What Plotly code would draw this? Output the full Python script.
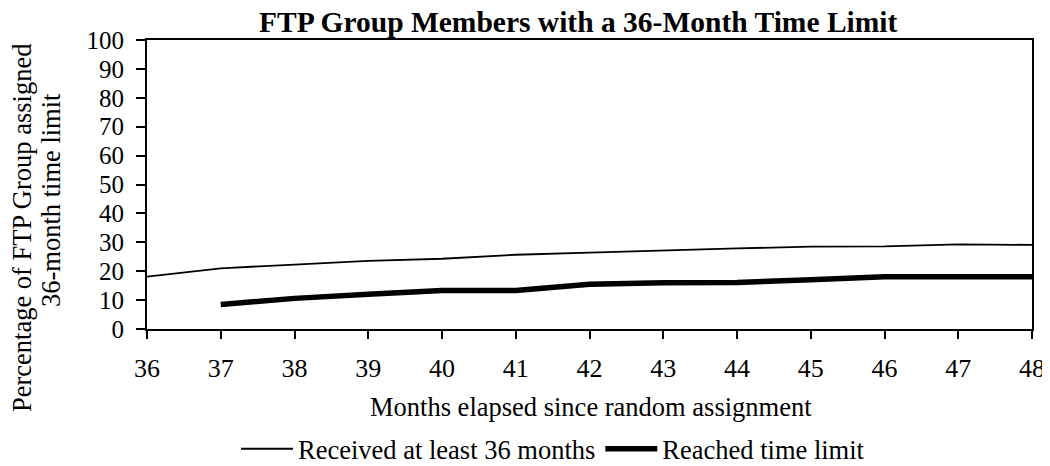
import plotly.graph_objects as go

months = [36, 37, 38, 39, 40, 41, 42, 43, 44, 45, 46, 47, 48]
received = [18.1, 21.0, 22.3, 23.6, 24.3, 25.7, 26.4, 27.2, 27.9, 28.5, 28.6, 29.3, 29.1]
reached = [None, 8.5, 10.6, 12.0, 13.3, 13.3, 15.5, 16.0, 16.1, 17.0, 18.1, 18.1, 18.1]
x_ticks = list(range(36, 49))
y_ticks = list(range(0, 101, 10))

FONT = "Liberation Serif, Times New Roman, serif"

# page body offset of the figure inside the browser window
OFF = 8
W, H = 1050 - OFF, 466 - OFF
# plot area in window pixels
L, R, T, B = 147, 1032, 40, 329
PW, PH = R - L, B - T


def px(x):
    return (x - L) / PW


def py(y):
    return (B - y) / PH


fig = go.Figure()
fig.add_trace(go.Scatter(x=months, y=received, mode="lines", name="Received at least 36 months",
                         line=dict(color="black", width=1.8)))
fig.add_trace(go.Scatter(x=months, y=reached, mode="lines", name="Reached time limit",
                         line=dict(color="black", width=5.5)))

fig.update_layout(
    width=W, height=H,
    margin=dict(l=L - OFF, r=W - (R - OFF), t=T - OFF, b=H - (B - OFF), autoexpand=False),
    paper_bgcolor="white", plot_bgcolor="white",
    font=dict(family=FONT, size=26.5, color="black"),
    showlegend=True,
    legend=dict(orientation="h", x=px(553), xanchor="center", y=py(449), yanchor="middle",
                font=dict(size=26.5), itemwidth=52, bgcolor="rgba(0,0,0,0)"),
    xaxis=dict(range=[36, 48], tickvals=x_ticks, showgrid=False, zeroline=False,
               showline=True, linecolor="black", linewidth=2, mirror=True,
               ticks="outside", ticklen=8, tickwidth=2, tickcolor="black",
               ticklabelstandoff=7, tickfont=dict(size=26)),
    xaxis2=dict(range=[36, 48], tickvals=x_ticks, overlaying="x", anchor="y", side="bottom",
                showgrid=False, zeroline=False, showline=False, showticklabels=False,
                ticks="inside", ticklen=8, tickwidth=2, tickcolor="black"),
    yaxis=dict(range=[0, 100], tickvals=y_ticks, showgrid=False, zeroline=False,
               showline=True, linecolor="black", linewidth=2, mirror=True,
               ticks="outside", ticklen=9, tickwidth=2, tickcolor="black",
               ticklabelstandoff=7, tickfont=dict(size=25)),
    annotations=[
        dict(text="<b>FTP Group Members with a 36-Month Time Limit</b>", xref="paper", yref="paper",
             x=px(578), y=py(22), xanchor="center", yanchor="middle",
             showarrow=False, font=dict(size=29.5)),
        dict(text="Months elapsed since random assignment", xref="paper", yref="paper",
             x=px(591), y=py(407), xanchor="center", yanchor="middle",
             showarrow=False, font=dict(size=26.5)),
        dict(text="Percentage of FTP Group assigned", xref="paper", yref="paper",
             x=px(22), y=py(228), xanchor="center", yanchor="middle",
             textangle=-90, showarrow=False, font=dict(size=26.5)),
        dict(text="36-month time limit", xref="paper", yref="paper",
             x=px(51), y=py(200), xanchor="center", yanchor="middle",
             textangle=-90, showarrow=False, font=dict(size=26.5)),
    ],
    shapes=[
        dict(type="rect", xref="paper", yref="paper", layer="above",
             x0=px(240), x1=px(920), y0=py(38), y1=py(33),
             fillcolor="white", line=dict(width=0)),
    ],
)

fig.write_html("out.html")
